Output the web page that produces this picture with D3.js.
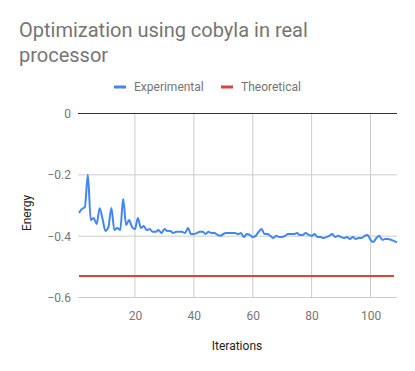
<!DOCTYPE html>
<html lang="en">
<head>
<meta charset="UTF-8">
<script src="https://d3js.org/d3.v7.min.js"></script>
<title>Optimization using cobyla in real processor</title>
<style>
  body { margin: 0; background: #fff; }
  text { font-family: Roboto, "Noto Sans", sans-serif; }
</style>
</head>
<body>
<svg id="vis" width="415" height="371"></svg>
<script>
// energy per iteration
var experimental = [
  -0.324, -0.311, -0.305, -0.200, -0.347, -0.341, -0.360, -0.309, -0.344, -0.383,
  -0.370, -0.308, -0.380, -0.373, -0.380, -0.279, -0.364, -0.347, -0.370, -0.377,
  -0.341, -0.373, -0.367, -0.380, -0.377, -0.386, -0.386, -0.380, -0.390, -0.377,
  -0.383, -0.383, -0.390, -0.386, -0.386, -0.386, -0.390, -0.373, -0.393, -0.393,
  -0.390, -0.386, -0.386, -0.393, -0.386, -0.390, -0.390, -0.396, -0.399, -0.393,
  -0.390, -0.390, -0.390, -0.390, -0.393, -0.390, -0.403, -0.393, -0.396, -0.403,
  -0.399, -0.386, -0.377, -0.393, -0.393, -0.399, -0.406, -0.399, -0.403, -0.403,
  -0.399, -0.393, -0.393, -0.393, -0.390, -0.396, -0.396, -0.390, -0.396, -0.399,
  -0.393, -0.403, -0.403, -0.406, -0.403, -0.399, -0.393, -0.403, -0.399, -0.403,
  -0.406, -0.403, -0.409, -0.403, -0.409, -0.406, -0.406, -0.399, -0.396, -0.412,
  -0.419, -0.406, -0.399, -0.412, -0.409, -0.409, -0.412, -0.416, -0.420
];
var theoreticalValue = -0.53;
var iterations = experimental.map(function(d, i) { return i + 1; });
var yTicks = [0, -0.2, -0.4, -0.6];
var xTicks = [20, 40, 60, 80, 100];
var seriesNames = ["Experimental", "Theoretical"];
var seriesColors = ["#4285f4", "#db4437"];

var svg = d3.select("#vis");
var grey = "#757575";

var x = d3.scaleLinear().domain([1, 109]).range([79, 397]);
var y = d3.scaleLinear().domain([-0.6, 0]).range([297.5, 113.5]);

// title
var title = svg.append("text").attr("x", 19).attr("y", 37)
  .attr("font-size", 20).attr("fill", grey);
title.append("tspan").attr("x", 19).text("Optimization using cobyla in real");
title.append("tspan").attr("x", 19).attr("dy", 25).text("processor");

// legend
var legendX = [114, 221];
seriesNames.forEach(function(name, i) {
  svg.append("rect").attr("x", legendX[i]).attr("y", 85.5)
    .attr("width", 12).attr("height", 3).attr("fill", seriesColors[i]);
  svg.append("text").attr("x", legendX[i] + 20).attr("y", 91)
    .attr("font-size", 12).attr("fill", grey).text(name);
});

// grid
var gGrid = svg.append("g");
gGrid.selectAll("line.v").data(xTicks).enter().append("line")
  .attr("x1", function(d) { return x(d); }).attr("x2", function(d) { return x(d); })
  .attr("y1", y(0)).attr("y2", y(-0.6))
  .attr("stroke", "#cccccc").attr("stroke-width", 1);
gGrid.selectAll("line.h").data(yTicks).enter().append("line")
  .attr("x1", x.range()[0] - 1).attr("x2", x.range()[1])
  .attr("y1", function(d) { return y(d); }).attr("y2", function(d) { return y(d); })
  .attr("stroke", function(d) { return d === 0 ? "#333333" : "#cccccc"; })
  .attr("stroke-width", 1);

// axes labels via d3 axes
var yAxis = d3.axisLeft(y).tickValues(yTicks).tickSize(0).tickPadding(7)
  .tickFormat(function(d) { return d === 0 ? "0" : d3.format(".1f")(d); });
var gy = svg.append("g").attr("transform", "translate(" + (x.range()[0] - 1) + ",0)").call(yAxis);
gy.select(".domain").remove();
gy.selectAll("text").attr("font-size", 12).attr("fill", grey)
  .style("font-family", "Roboto, sans-serif");

var xAxis = d3.axisBottom(x).tickValues(xTicks).tickSize(0).tickPadding(14);
var gx = svg.append("g").attr("transform", "translate(0," + y(-0.6) + ")").call(xAxis);
gx.select(".domain").remove();
gx.selectAll("text").attr("font-size", 12).attr("fill", grey)
  .style("font-family", "Roboto, sans-serif");

// axis titles
svg.append("text").attr("x", 237).attr("y", 350).attr("text-anchor", "middle")
  .attr("font-size", 12).attr("fill", "#222").text("Iterations");
svg.append("text").attr("transform", "translate(31,213) rotate(-90)")
  .attr("text-anchor", "middle").attr("font-size", 12).attr("fill", "#222").text("Energy");

// series
var line = d3.line()
  .x(function(d) { return x(d[0]); })
  .y(function(d) { return y(d[1]); })
  .curve(d3.curveMonotoneX);

svg.append("path")
  .datum(iterations.map(function(it) { return [it, theoreticalValue]; }).filter(function(d) { return d[0] <= 108; }))
  .attr("d", line).attr("fill", "none")
  .attr("stroke", seriesColors[1]).attr("stroke-width", 2);

svg.append("path")
  .datum(iterations.map(function(it, i) { return [it, experimental[i]]; }))
  .attr("d", line).attr("fill", "none")
  .attr("stroke", seriesColors[0]).attr("stroke-width", 2)
  .attr("stroke-linejoin", "round");
</script>
</body>
</html>
